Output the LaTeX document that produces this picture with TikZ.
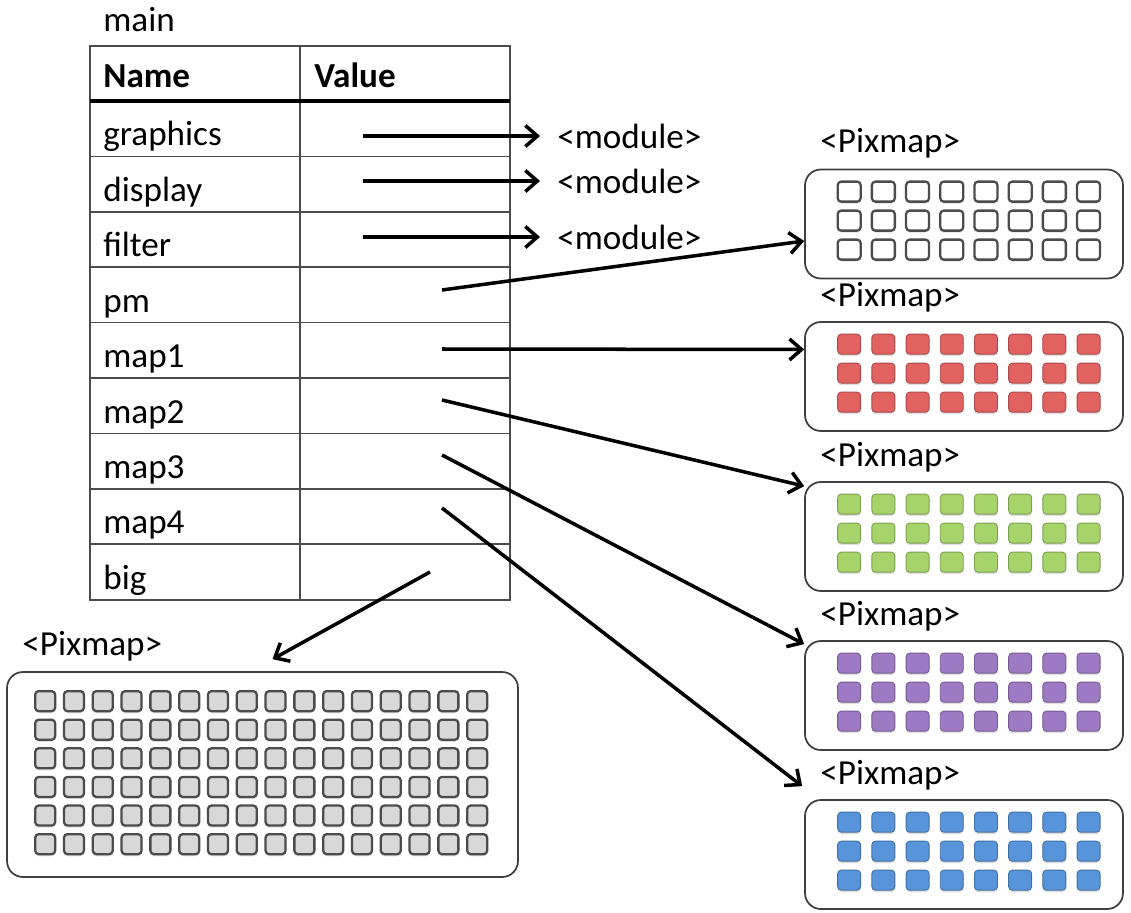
\documentclass[tikz,border=0pt]{standalone}
\usepackage{fontspec}
\setmainfont{Carlito}
\usepackage{tikz}
\usetikzlibrary{arrows.meta, calc, shadows}

\definecolor{pxred}{RGB}{226,98,98}
\definecolor{pxgreen}{RGB}{166,212,106}
\definecolor{pxpurple}{RGB}{158,122,196}
\definecolor{pxblue}{RGB}{88,148,218}
\definecolor{pxgray}{RGB}{216,216,216}

\newcommand\tblfont{\fontsize{20}{24}\selectfont}

\tikzset{
    lbl/.style={anchor=base west, inner sep=0pt, font=\tblfont},
    hdr/.style={lbl, font=\tblfont\bfseries},
    modlbl/.style={anchor=west, inner xsep=0.34cm, inner ysep=0pt, font=\tblfont},
    tblline/.style={draw=black!70, line width=1pt},
    pixbox/.style={rectangle, draw=black!75, line width=1pt, rounded corners=9pt, minimum width=6.36cm, minimum height=2.18cm, inner sep=0pt},
    bigbox/.style={pixbox, minimum width=10.22cm, minimum height=4.1cm},
    cell/.style={rectangle, rounded corners=2pt, minimum width=0.46cm, minimum height=0.4cm, inner sep=0pt, line width=0.5pt, drop shadow={opacity=0.25, shadow xshift=0pt, shadow yshift=-1.2pt}},
    bigcell/.style={cell, minimum width=0.4cm, draw=black!70, line width=1.3pt, fill=pxgray},
    linkarrow/.style={draw=black, line width=2pt, -{Straight Barb[length=2.4mm, width=4.2mm, line width=2pt]}}
}

\begin{document}
\begin{tikzpicture}[x=0.02cm, y=-0.02cm]
    \useasboundingbox (0,0) rectangle (1131,912);

    % Table of names and values
    \node[lbl] (mainlbl) at (103,32) {main};
    \draw[tblline] (90,46) rectangle (510,600);
    \draw[tblline] (300,46) -- (300,600);
    \draw[line width=1.8pt] (90,101) -- (510,101);
    \foreach \k in {1,...,8}
        \draw[tblline] (90,101+55.4*\k) -- (510,101+55.4*\k);
    \node[hdr] (hname) at (103,88) {Name};
    \node[hdr] (hvalue) at (314,88) {Value};
    \foreach \n [count=\k] in {graphics,display,filter,pm,map1,map2,map3,map4,big}
        \node[lbl] (row-\n) at (103,90.6+55.4*\k) {\n};

    % Start points inside the value column
    \coordinate (val-graphics) at (363,136);
    \coordinate (val-display) at (363,181);
    \coordinate (val-filter) at (363,237);
    \coordinate (val-pm) at (442,290);
    \coordinate (val-map1) at (442,349);
    \coordinate (val-map2) at (442,400);
    \coordinate (val-map3) at (442,455);
    \coordinate (val-map4) at (442,508);
    \coordinate (val-big) at (430,572);

    % Modules
    \node[modlbl] (modA) at (540,136) {<module>};
    \node[modlbl] (modB) at (540,181) {<module>};
    \node[modlbl] (modC) at (540,237) {<module>};

    % Pixmaps on the right
    \node[lbl] (lblA) at (820,153) {<Pixmap>};
    \node[lbl] (lblB) at (820,306) {<Pixmap>};
    \node[lbl] (lblC) at (820,466) {<Pixmap>};
    \node[lbl] (lblD) at (820,625) {<Pixmap>};
    \node[lbl] (lblE) at (820,784) {<Pixmap>};
    \node[pixbox] (pixA) at (964,224) {};
    \node[pixbox] (pixB) at (964,376.5) {};
    \node[pixbox] (pixC) at (964,536.5) {};
    \node[pixbox] (pixD) at (964,695.5) {};
    \node[pixbox] (pixE) at (964,854.5) {};
    \foreach \b/\c/\e in {pixB/pxred/pxred!75!black, pixC/pxgreen/pxgreen!75!black, pixD/pxpurple/pxpurple!75!black, pixE/pxblue/pxblue!75!black}
        \foreach \i in {0,...,7}
            \foreach \j in {0,1,2}
                \node[cell, fill=\c, draw=\e] (\b-\i-\j) at ($(\b.north west)+(45+34.2*\i,23+29*\j)$) {};
    \foreach \i in {0,...,7}
        \foreach \j in {0,1,2}
            \node[cell, fill=white, draw=black!70, line width=1.3pt] (pixA-\i-\j) at ($(pixA.north west)+(45+34.2*\i,23+29*\j)$) {};

    % Big pixmap
    \node[lbl] (lblBig) at (22,655) {<Pixmap>};
    \node[bigbox] (pixBig) at (262.5,774.5) {};
    \foreach \i in {0,...,15}
        \foreach \j in {0,...,5}
            \node[bigcell] (pixBig-\i-\j) at ($(pixBig.north west)+(39+28.8*\i,30+28.6*\j)$) {};

    % Connectors
    \draw[linkarrow] (val-graphics) -- (modA.west);
    \draw[linkarrow] (val-display) -- (modB.west);
    \draw[linkarrow] (val-filter) -- (modC.west);
    \draw[linkarrow] (val-pm) -- ($(pixA.west)+(0,17)$);
    \draw[linkarrow] (val-map1) -- ($(pixB.west)+(0,-27)$);
    \draw[linkarrow] (val-map2) -- ($(pixC.north west)+(0,5)$);
    \draw[linkarrow] (val-map3) -- ($(pixD.north west)+(0,4)$);
    \draw[linkarrow] (val-map4) -- ($(pixE.north west)+(-2,-13)$);
    \draw[linkarrow] (val-big) -- ($(pixBig.north)+(10,-12)$);
\end{tikzpicture}
\end{document}
